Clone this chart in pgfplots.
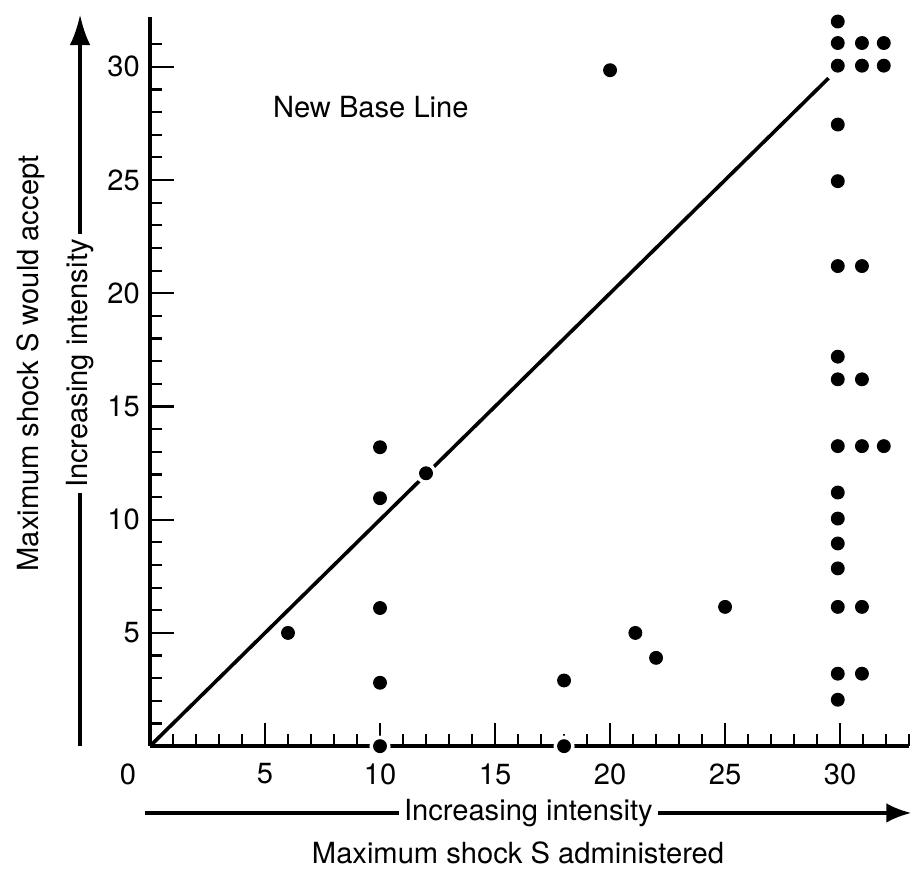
\documentclass[border=0pt]{standalone}
\usepackage{pgfplots}
\pgfplotsset{compat=1.18}
\usepackage{fontspec}
\setmainfont{TeX Gyre Heros}
\usetikzlibrary{arrows.meta}

\pgfplotstableread{
x y
6 5
10 13.2
10 10.95
10 6.1
10 2.8
18 2.9
20 29.85
21.1 5.0
22 3.9
25 6.15
29.9 32.0
29.9 31.05
29.9 30.05
29.9 27.45
29.9 24.95
29.9 21.2
29.9 17.2
29.9 16.2
29.9 13.25
29.9 11.2
29.9 10.05
29.9 8.95
29.9 7.85
29.9 6.15
29.9 3.2
29.9 2.05
30.95 31.05
30.95 30.05
30.95 21.2
30.95 16.2
30.95 13.25
30.95 6.15
30.95 3.2
31.9 31.05
31.9 30.05
31.9 13.25
}\pts

% points that sit on a line and cut a gap in it
\pgfplotstableread{
x y
10 0
12 12.05
18 0
}\halopts

\begin{document}
\fontsize{10.5}{12.5}\selectfont
\begin{tikzpicture}
\begin{axis}[
  scale only axis,
  width=273.6pt, height=262.8pt,
  xmin=0, xmax=33, ymin=0, ymax=32.2,
  axis lines*=left,
  axis line style={line width=1.2pt},
  clip=false,
  xtick={5,10,...,30}, ytick={5,10,...,30},
  minor xtick={1,...,33}, minor ytick={1,...,31},
  tick align=inside,
  major tick length=8.5pt, minor tick length=4.5pt,
  every tick/.style={black, line width=0.8pt},
  xticklabel style={yshift=-2.5pt},
  /pgf/number format/assume math mode=true,
  tick label style={font=\fontsize{10.5}{12.5}\selectfont},
]
\addplot[black, line width=1.3pt] coordinates {(0,0) (29.5,29.5)};
\addplot[only marks, mark=*, mark size=2.3pt, black] table {\pts};
\addplot[only marks, mark=*, mark size=3.6pt, white] table {\halopts};
\addplot[only marks, mark=*, mark size=2.3pt, black] table {\halopts};

\node[anchor=north, inner sep=0.333em, yshift=-2.5pt] at (axis cs:-0.96,0) {0};
\node at (axis cs:9.6,28.2) {New Base Line};

% x direction arrow and label
\draw[line width=1.2pt, -{Latex[length=9pt,width=7pt]}]
  (axis cs:-0.2,-2.95) -- node[pos=0.5, fill=white, inner sep=2pt] {Increasing intensity} (axis cs:33.1,-2.95);
\node at (axis cs:16.0,-4.71) {Maximum shock S administered};

% y direction arrow and label
\draw[line width=1.2pt, -{Latex[length=11pt,width=7.5pt]}]
  (axis cs:-3.04,0) -- node[pos=0.523, fill=white, inner sep=2pt, rotate=90] {Increasing intensity} (axis cs:-3.04,32.3);
\node[rotate=90] at (axis cs:-5.2,16.9) {Maximum shock S would accept};

\pgfresetboundingbox
\path (axis cs:-6.52,32.95) rectangle (axis cs:33.3,-5.55);
\end{axis}
\end{tikzpicture}
\end{document}
